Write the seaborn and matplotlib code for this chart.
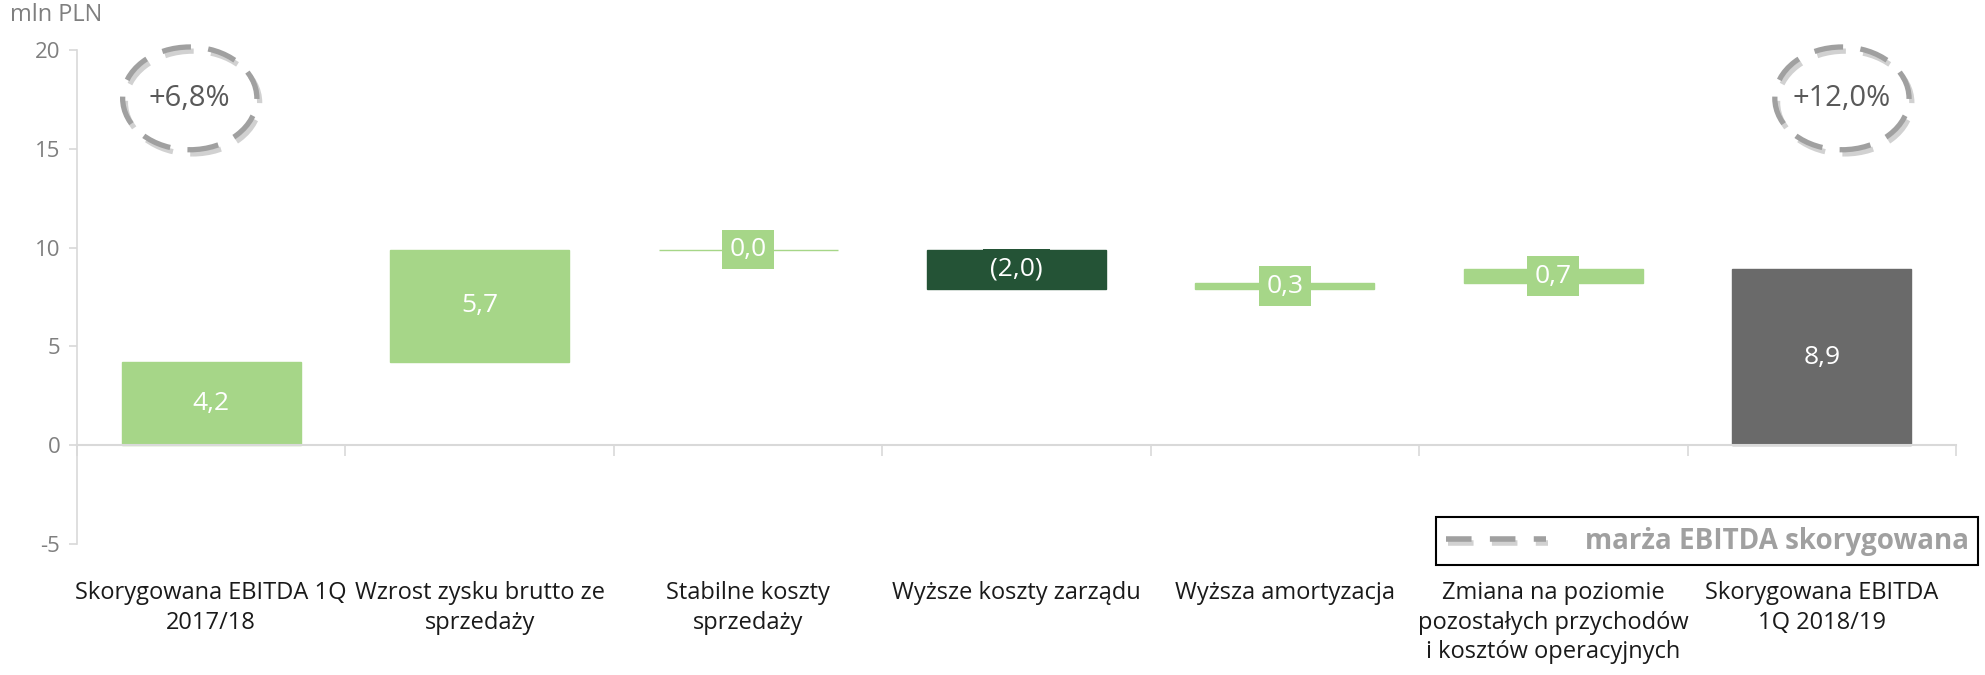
import numpy as np
import matplotlib
matplotlib.use("Agg")
import matplotlib.pyplot as plt
import matplotlib.patheffects as pe
from matplotlib.patches import Ellipse
from matplotlib.lines import Line2D
import seaborn as sns

# chart data
categories = [
    "Skorygowana EBITDA 1Q\n2017/18",
    "Wzrost zysku brutto ze\nsprzedaży",
    "Stabilne koszty\nsprzedaży",
    "Wyższe koszty zarządu",
    "Wyższa amortyzacja",
    "Zmiana na poziomie\npozostałych przychodów\ni kosztów operacyjnych",
    "Skorygowana EBITDA\n1Q 2018/19",
]
values = [4.2, 5.7, 0.0, -2.0, 0.3, 0.7, 8.9]
kinds = ["start", "up", "up", "down", "up", "up", "end"]
value_labels = ["4,2", "5,7", "0,0", "(2,0)", "0,3", "0,7", "8,9"]
margin_labels = ["+6,8%", "+12,0%"]
margin_bars = [0, 6]
y_ticks = [-5, 0, 5, 10, 15, 20]

kind_colors = {"start": "#A6D688", "up": "#A6D688", "down": "#245336", "end": "#6A6A6A"}
light_gray = "#D9D9D9"
dash_gray = "#A0A0A0"

# waterfall: bottoms and heights from running total
bottoms, heights = [], []
running = 0.0
for v, k in zip(values, kinds):
    if k in ("start", "end"):
        bottoms.append(0.0)
        heights.append(v)
        running = v
    else:
        bottoms.append(running if v >= 0 else running + v)
        heights.append(abs(v))
        running += v
bar_colors = [kind_colors[k] for k in kinds]

sns.set_theme(style="white")
plt.rcParams["font.family"] = ["Open Sans", "DejaVu Sans"]
plt.rcParams["axes.unicode_minus"] = False

fig = plt.figure(figsize=(19.85, 6.75), dpi=100)
ax = fig.add_axes([0.0388, 0.1941, 0.9466, 0.7319])

sns.barplot(x=categories, y=heights, bottom=bottoms, color=bar_colors[0],
            width=0.667, errorbar=None, ax=ax, linewidth=1)
for patch, c in zip(ax.patches, bar_colors):
    patch.set_facecolor(c)
    patch.set_edgecolor(c)

# value labels in the middle of each bar
for i, (b, h, lab, c) in enumerate(zip(bottoms, heights, value_labels, bar_colors)):
    ax.text(i, b + h / 2, lab, ha="center", va="center", color="white", fontsize=19,
            bbox=dict(boxstyle="square,pad=0.28", facecolor=c, edgecolor="none"), zorder=5)

# dashed ellipses with margins
shadow = [pe.SimpleLineShadow(offset=(2, -3), shadow_color="black", alpha=0.18), pe.Normal()]
for lab, i in zip(margin_labels, margin_bars):
    xc = i - 0.08 if i == 0 else i + 0.075
    ell = Ellipse((xc, 17.55), 0.5, 5.2, fill=False, edgecolor=dash_gray, lw=3.8,
                  linestyle=(0, (5.5, 3.3)), zorder=4, clip_on=False)
    ell.set_path_effects(shadow)
    ax.add_patch(ell)
    ax.text(xc, 17.55, lab, ha="center", va="center", fontsize=21, color="#595959")

ax.set_xlim(-0.5, len(categories) - 0.5)
ax.set_ylim(-5, 20)
ax.set_yticks(y_ticks)
ax.set_xlabel("")
ax.set_ylabel("")

for s in ["top", "right"]:
    ax.spines[s].set_visible(False)
ax.spines["left"].set_color(light_gray)
ax.spines["left"].set_linewidth(1.2)
ax.spines["bottom"].set_position(("data", 0))
ax.spines["bottom"].set_color(light_gray)
ax.spines["bottom"].set_linewidth(1.5)

ax.tick_params(axis="y", which="major", left=True, length=6, color=light_gray,
               labelsize=16, labelcolor="#7F7F7F", pad=6)
ax.set_xticks(np.arange(len(categories)))
ax.set_xticklabels(categories, linespacing=1.3)
ax.set_xticks(np.arange(len(categories) + 1) - 0.5, minor=True)
ax.tick_params(axis="x", which="major", bottom=True, length=0, pad=98,
               labelsize=17, labelcolor="#1A1A1A")
ax.tick_params(axis="x", which="minor", bottom=True, length=8, width=1.2, color=light_gray)
for t in ax.get_xticklabels():
    t.set_va("top")

fig.text(0.005, 0.995, "mln PLN", ha="left", va="top", fontsize=17, color="#7F7F7F")

handle = Line2D([0], [0], color=dash_gray, lw=4, dashes=(4.6, 3.3))
leg = fig.legend(handles=[handle], labels=["marża EBITDA skorygowana"], loc="center",
                 bbox_to_anchor=(0.86, 0.1985), frameon=True, fancybox=False,
                 edgecolor="black", framealpha=1, prop={"weight": "bold", "size": 20},
                 labelcolor=dash_gray, handlelength=3.6, handletextpad=1.4, borderpad=0.35)
leg.get_frame().set_linewidth(1.5)
leg.legend_handles[0].set_path_effects(shadow)

fig.savefig("out.png", dpi=100)
